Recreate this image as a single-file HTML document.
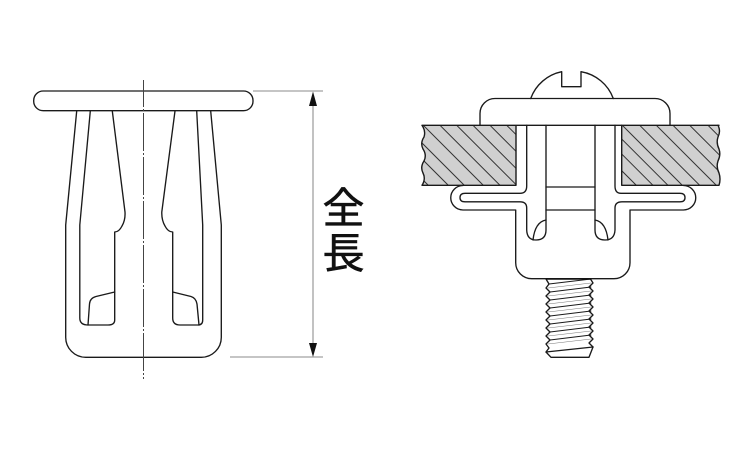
<!DOCTYPE html>
<html><head><meta charset="utf-8"><style>
html,body{margin:0;padding:0;background:#fff}
svg{display:block}
</style></head><body>
<svg width="750" height="450" viewBox="0 0 750 450" xmlns="http://www.w3.org/2000/svg">
<defs>
<clipPath id="pl"><path d="M422,125.3H516V185.3H422Q426,179 423,173Q420,167 424,161Q427,155 423,149Q420,143 424,137Q426,131 422,125.3Z"/></clipPath>
<clipPath id="pr"><path d="M621.7,125.3H718Q721,131 718,137Q716,143 719,149Q721,155 718,161Q716,167 719,173Q721,179 719,185.3H621.7Z"/></clipPath>
</defs>
<g fill="none" stroke="#1a1a1a" stroke-width="1.35" stroke-linejoin="round" stroke-linecap="round">
<!-- left part -->
<rect x="33.7" y="91" width="219.3" height="19.7" rx="9.5" ry="9.5"/>
<path d="M76.7,111L65.7,225V337A20,20 0 0 0 85.7,357.3H201A20,20 0 0 0 221.3,337V225L210.7,111"/>
<path d="M90.3,111L79.8,225V318Q79.8,325 88,325H108Q114.7,325 114.7,320V232Q119,232 122,226Q125.5,220 125,212L112.3,111"/>
<path d="M114.7,292L96,296.5Q90,298 89.5,304L88,325"/>
<path d="M175,111L161.8,212Q161.5,220 165,226Q168,232 172.7,232V318Q172.7,325 180,325H198Q202.7,325 202.7,320V225L196.7,111"/>
<path d="M172.7,292L191,296.5Q196,298 197,304L199,325"/>
<!-- right part: head -->
<path d="M530.7,98.5A42,42 0 0 1 561.7,71.7V86.7H581V71.7A42,42 0 0 1 613.3,98.5"/>
<path d="M480,125.3V113.5A15,15 0 0 1 495,98.5H655A15,15 0 0 1 670,113.5V125.3"/>
<!-- plates -->
<path d="M516,125.3V185.3H422Q426,179 423,173Q420,167 424,161Q427,155 423,149Q420,143 424,137Q426,131 422,125.3Z" fill="#d0d0d0" stroke="none"/>
<path d="M621.7,125.3H718Q721,131 718,137Q716,143 719,149Q721,155 718,161Q716,167 719,173Q721,179 719,185.3H621.7Z" fill="#d0d0d0" stroke="none"/>
<g clip-path="url(#pl)" stroke-width="1" stroke="#333">
<path d="M440,125.3L520,205.3M456.7,125.3L536,204.6M473,125.3L533,185.3M490,125.3L550,185.3M506.7,125.3L566,184.6M423.3,125.3L483,185M420,141L464,185M420,157L448,185M420,177L428,185"/>
</g>
<g clip-path="url(#pr)" stroke-width="1" stroke="#333">
<path d="M639.7,125.3L700,185.6M656.3,125.3L716,185M673,125.3L733,185.3M689.7,125.3L750,185.6M708,125.3L768,185.3M622.3,125.3L682,185M620,137.3L668,185.3M620,152.3L653,185.3M620,169L636,185"/>
</g>
<path d="M516,125.3V185.3H422Q426,179 423,173Q420,167 424,161Q427,155 423,149Q420,143 424,137Q426,131 422,125.3H719" stroke-width="1.4"/>
<path d="M621.7,125.3V185.3H719Q721,179 719,173Q716,167 718,161Q721,155 719,149Q716,143 718,137Q721,131 718,125.3" stroke-width="1.4"/>
<!-- clip -->
<path d="M526.7,125.3V186Q526.7,193.3 520,193.3H465Q460,193.3 460,197.6Q460,201.8 465,201.8H520Q526.7,201.8 526.7,208V230Q527,240 536,240Q546,240 546,230V125.3"/>
<path d="M595,125.3V230Q595,240 605,240Q614.5,240 615,230V208Q615,201.8 622,201.8H680Q685,201.8 685,197.6Q685,193.3 680,193.3H621Q615,193.3 615,186V125.3"/>
<path d="M546,220Q535,222 533,240M595,220Q606,222 608,240"/>
<path d="M546,187H595M546,210H595"/>
<path d="M463,185.5A12.2,12.2 0 0 0 463,210H515.7V262.7A16,16 0 0 0 531.7,278.7H614A16,16 0 0 0 630,262.7V210H683.5A12.2,12.2 0 0 0 683.5,185.5"/>
<!-- bolt -->
<path d="M546,279L549,284L546,288L550,292L546,296L550,300L546,304L550,308L546,312L550,316L546,320L550,324L546,328L550,332L546,336L550,340L546,344L549,348L546,352L551,357.3H589L593,347" />
<path d="M590.5,279L593,283L589,287L593,291L589,295L593,299L589,303L593,307L589,311L593,315L589,319L593,323L589,327L593,331L589,335L593,339L589,343L593,347"/>
<path d="M549,284L591,279M550,292L591,287M550,300L591,295M550,308L591,303M550,316L591,311M550,324L591,319M550,332L591,327M550,340L591,335" stroke-width=".9"/>
<path d="M548,288L591,283M548,296L591,291M548,304L591,299M548,312L591,307M548,320L591,315M548,328L591,323M548,336L591,331M548,344L591,339" stroke-width=".6" stroke="#777"/>
<path d="M546,352L593,347" stroke-width="1.3"/>
</g>
<path d="M546,279H591" stroke="#111" stroke-width="1.6"/>
<!-- center line -->
<path d="M143.5,80V379" stroke="#444" stroke-width="1" fill="none" stroke-dasharray="38 2 2 2" stroke-dashoffset="11"/>
<!-- dims -->
<path d="M253,91H323M230,357H323" stroke="#666" stroke-width=".8" fill="none"/>
<path d="M313,95V353" stroke="#999" stroke-width="1.2" fill="none"/>
<path d="M313,91.5L309,106H317Z M313,357L309,343H317Z" fill="#111"/>
<text x="343.5" y="223" font-family="'Liberation Sans','Noto Sans CJK JP',sans-serif" font-size="42" text-anchor="middle" fill="#111" stroke="#111" stroke-width=".6">全</text>
<text x="343.5" y="268" font-family="'Liberation Sans','Noto Sans CJK JP',sans-serif" font-size="42" text-anchor="middle" fill="#111" stroke="#111" stroke-width=".6">長</text>
</svg>
</body></html>
